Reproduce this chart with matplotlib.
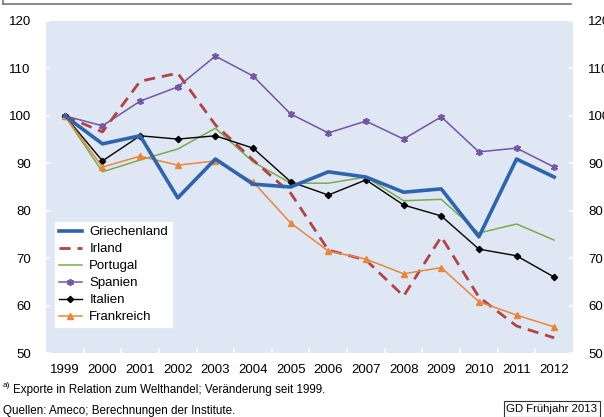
import matplotlib
matplotlib.use("Agg")
import matplotlib.pyplot as plt
from matplotlib.lines import Line2D

plt.rcParams['font.family'] = ['Liberation Sans', 'DejaVu Sans']

years = ['1999', '2000', '2001', '2002', '2003', '2004', '2005', '2006',
         '2007', '2008', '2009', '2010', '2011', '2012']
griechenland = [100, 94.1, 95.8, 82.7, 90.9, 85.6, 85.0, 88.2, 87.1, 83.9, 84.6, 74.5, 90.9, 87.1]
irland = [100, 96.6, 107.3, 109.0, 98.1, 90.7, 83.7, 71.7, 69.6, 62.0, 74.5, 61.8, 55.7, 53.2]
portugal = [100, 88.2, 90.7, 93.0, 97.4, 90.3, 85.8, 85.8, 87.1, 82.1, 82.4, 75.3, 77.2, 73.8]
spanien = [100, 97.9, 103.1, 106.1, 112.6, 108.4, 100.4, 96.4, 98.9, 95.1, 99.8, 92.4, 93.2, 89.2]
italien = [100, 90.5, 95.8, 95.1, 95.8, 93.2, 86.1, 83.3, 86.5, 81.2, 78.9, 71.9, 70.5, 66.0]
frankreich = [100, 89.2, 91.5, 89.6, 90.5, 86.1, 77.4, 71.5, 69.8, 66.7, 68.0, 60.8, 58.0, 55.5]

y_ticks = [50, 60, 70, 80, 90, 100, 110, 120]

fig = plt.figure(figsize=(6.04, 4.17), dpi=100)
ax = fig.add_axes([46 / 604, 1 - 353 / 417, 527 / 604, 332 / 417])
ax.set_facecolor('#dfe7f4')
for s in ax.spines.values():
    s.set_visible(False)

x = list(range(len(years)))
ax.plot(x, griechenland, color='#2e64ad', lw=2.6, label='Griechenland', zorder=5)
ax.plot(x, irland, color='#b04444', lw=2.0, ls=(0, (4, 2.5)), label='Irland', zorder=4)
ax.plot(x, portugal, color='#7aab48', lw=1.1, label='Portugal', zorder=3)
ax.plot(x, spanien, color='#7454a4', lw=1.1, marker=(6, 2, 0), ms=5, mew=1.2,
        label='Spanien', zorder=3)
ax.plot(x, italien, color='black', lw=1.0, marker='D', ms=3.2, label='Italien', zorder=4)
ax.plot(x, frankreich, color='#e8873a', lw=1.1, marker='^', ms=4.5, label='Frankreich', zorder=4)

ax.set_xlim(-0.5, len(years) - 0.5)
ax.set_ylim(50, 120)
ax.set_xticks(x)
ax.set_xticklabels(years)
ax.set_yticks(y_ticks)
ax.tick_params(axis='x', length=0, pad=8, labelsize=9.5)
ax.tick_params(axis='y', length=3, color='white', width=1.2, pad=11, labelsize=9.5,
               direction='in', right=True, labelright=True)
ax.grid(False)

# category separators along the bottom edge
for i in range(1, len(years)):
    ax.plot([i - 0.5, i - 0.5], [50, 50.8], color='white', lw=1.2, zorder=6,
            clip_on=False)

leg = ax.legend(loc='lower left', bbox_to_anchor=(0.017, 0.078), frameon=True,
                fancybox=False, framealpha=1, edgecolor='white', fontsize=9.5,
                borderpad=0.3, labelspacing=0.36, handlelength=1.75,
                handletextpad=0.55, borderaxespad=0)

# remnant of the title frame at the top
fig.add_artist(Line2D([3 / 604, 571 / 604], [1 - 4 / 417, 1 - 4 / 417],
                      color='#777777', lw=1.2))
fig.add_artist(Line2D([3 / 604, 3 / 604], [1, 1 - 4 / 417], color='#777777', lw=1.2))

fig.text(3 / 604, 1 - 389 / 417, 'a)', fontsize=6, va='bottom')
fig.text(13 / 604, 1 - 390 / 417, 'Exporte in Relation zum Welthandel; Veränderung seit 1999.',
         fontsize=8.4, va='center')
fig.text(3 / 604, 1 - 411 / 417, 'Quellen: Ameco; Berechnungen der Institute.',
         fontsize=8.4, va='center')
fig.text(552 / 604, 1 - 409 / 417, 'GD Frühjahr 2013', fontsize=8.2, va='center',
         ha='center',
         bbox=dict(boxstyle='square,pad=0.25', fc='white', ec='#333333', lw=0.8))

fig.savefig('out.png', dpi=100)
